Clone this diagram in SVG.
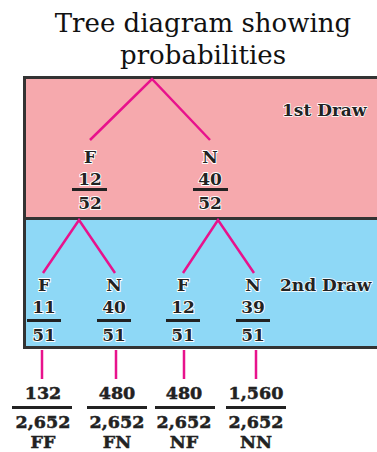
<svg xmlns="http://www.w3.org/2000/svg" width="377" height="452" viewBox="0 0 377 452">
<style>
.title{font-family:"DejaVu Serif","Liberation Serif",serif;font-size:26px;fill:#111;text-anchor:middle}
.lbl{font-family:"DejaVu Serif","Liberation Serif",serif;font-weight:bold;font-size:17px;fill:#222;text-anchor:middle;stroke:#fff;stroke-width:1.8px;paint-order:stroke}
.bot{font-family:"DejaVu Serif","Liberation Serif",serif;font-weight:bold;font-size:17.5px;fill:#222;text-anchor:middle;stroke:#222;stroke-width:0.5px}
.hdr{font-family:"DejaVu Serif","Liberation Serif",serif;font-weight:bold;font-size:17px;fill:#222;stroke:#fff;stroke-width:1.5px;paint-order:stroke}
.bar{stroke:#222;stroke-width:3}
.edge{stroke:#E8128C;stroke-width:2.5;fill:none}
</style>
<text class="title" x="203" y="32">Tree diagram showing</text>
<text class="title" x="203" y="64">probabilities</text>
<g id="boxes">
<rect x="24.5" y="77.5" width="360" height="141" fill="#F6A9AD" stroke="#333" stroke-width="3"/>
<rect x="24.5" y="218.5" width="360" height="129" fill="#8ED8F6" stroke="#333" stroke-width="3"/>
</g>
<g id="connectors">
<path class="edge" d="M90,140 L152,79 L210,140"/>
<path class="edge" d="M43,273 L79,220 L115,273"/>
<path class="edge" d="M183,273 L218,220 L254,273"/>
<path class="edge" d="M42,350 V379 M116,350 V379 M184,350 V379 M256,350 V379"/>
</g>
<g id="hdr1"><text class="hdr" x="282" y="116">1st Draw</text></g>
<g id="hdr2"><text class="hdr" x="280" y="291">2nd Draw</text></g>
<g id="n1F"><text class="lbl" x="90" y="163">F</text><text class="lbl" x="90" y="185">12</text><line class="bar" x1="72" y1="189.5" x2="107" y2="189.5"/><text class="lbl" x="90" y="209">52</text></g>
<g id="n1N"><text class="lbl" x="210" y="163">N</text><text class="lbl" x="210" y="185">40</text><line class="bar" x1="193" y1="189.5" x2="228" y2="189.5"/><text class="lbl" x="210" y="209">52</text></g>
<g id="n2FF"><text class="lbl" x="44" y="291">F</text><text class="lbl" x="44" y="313">11</text><line class="bar" x1="27" y1="320.5" x2="61" y2="320.5"/><text class="lbl" x="44" y="341">51</text></g>
<g id="n2FN"><text class="lbl" x="114" y="291">N</text><text class="lbl" x="114" y="313">40</text><line class="bar" x1="97" y1="320.5" x2="131" y2="320.5"/><text class="lbl" x="114" y="341">51</text></g>
<g id="n2NF"><text class="lbl" x="183" y="291">F</text><text class="lbl" x="183" y="313">12</text><line class="bar" x1="166" y1="320.5" x2="200" y2="320.5"/><text class="lbl" x="183" y="341">51</text></g>
<g id="n2NN"><text class="lbl" x="253" y="291">N</text><text class="lbl" x="253" y="313">39</text><line class="bar" x1="236" y1="320.5" x2="270" y2="320.5"/><text class="lbl" x="253" y="341">51</text></g>
<g id="rFF"><text class="bot" x="43" y="399">132</text><line class="bar" x1="12" y1="407.5" x2="72" y2="407.5"/><text class="bot" x="43" y="428">2,652</text><text class="bot" x="43" y="448">FF</text></g>
<g id="rFN"><text class="bot" x="117" y="399">480</text><line class="bar" x1="87" y1="407.5" x2="147" y2="407.5"/><text class="bot" x="117" y="428">2,652</text><text class="bot" x="117" y="448">FN</text></g>
<g id="rNF"><text class="bot" x="184" y="399">480</text><line class="bar" x1="155" y1="407.5" x2="215" y2="407.5"/><text class="bot" x="184" y="428">2,652</text><text class="bot" x="184" y="448">NF</text></g>
<g id="rNN"><text class="bot" x="256" y="399">1,560</text><line class="bar" x1="226" y1="407.5" x2="286" y2="407.5"/><text class="bot" x="256" y="428">2,652</text><text class="bot" x="256" y="448">NN</text></g>
</svg>
